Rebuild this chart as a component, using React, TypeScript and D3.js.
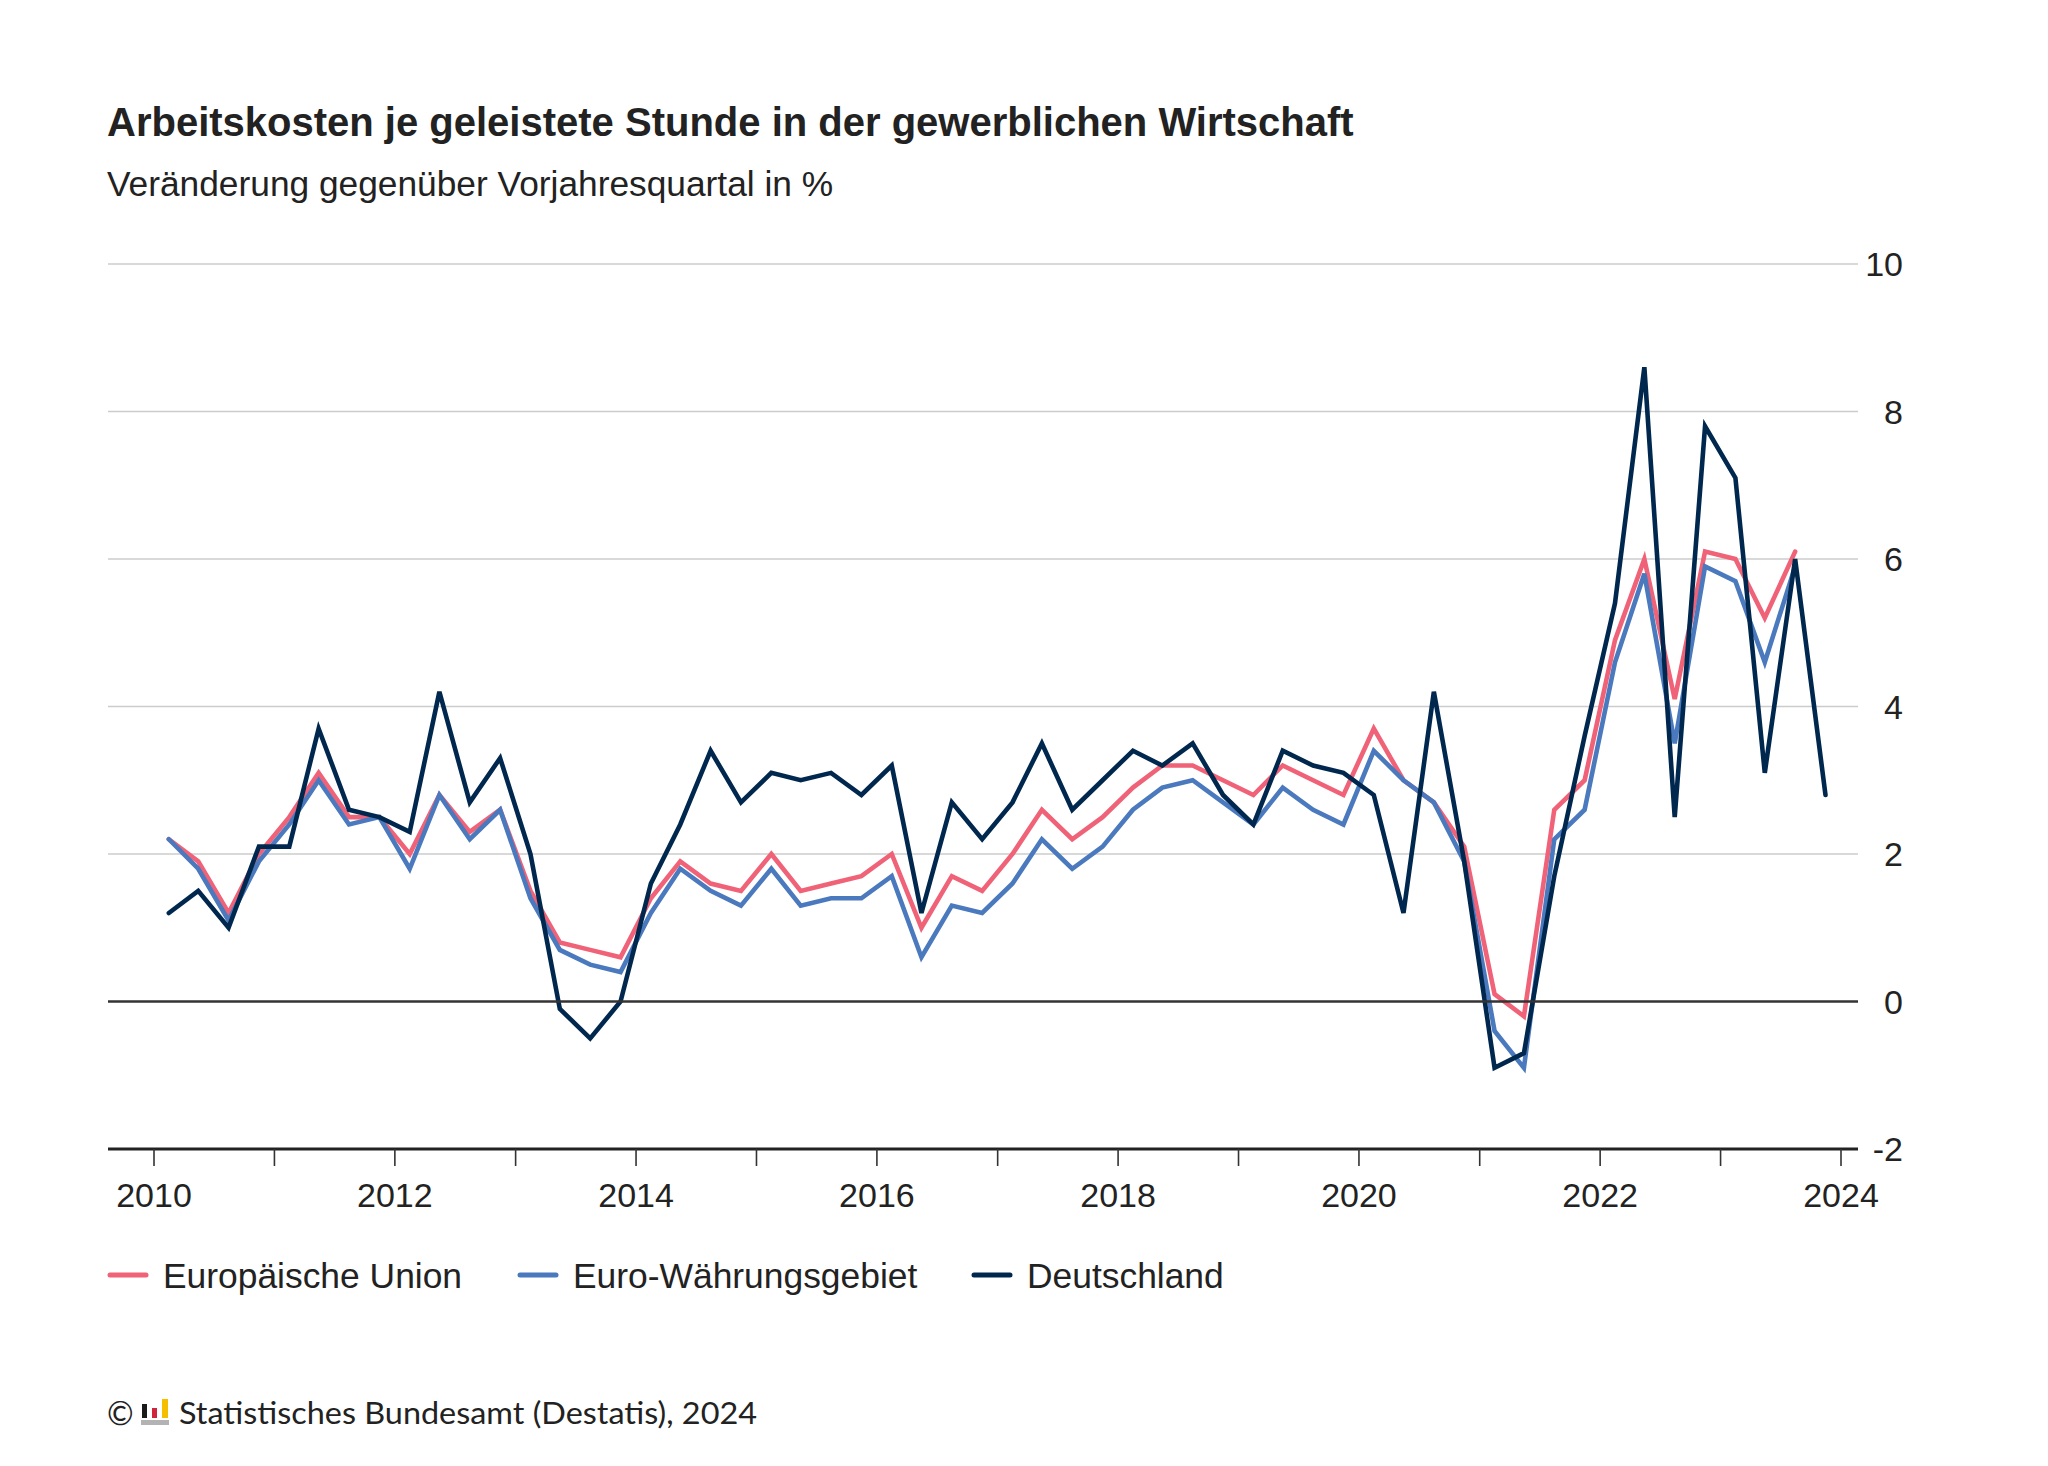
import React from "react";
import * as d3 from "d3";

const W = 2048;
const H = 1466;

const quarters = [
  "2010Q1","2010Q2","2010Q3","2010Q4","2011Q1","2011Q2","2011Q3","2011Q4",
  "2012Q1","2012Q2","2012Q3","2012Q4","2013Q1","2013Q2","2013Q3","2013Q4",
  "2014Q1","2014Q2","2014Q3","2014Q4","2015Q1","2015Q2","2015Q3","2015Q4",
  "2016Q1","2016Q2","2016Q3","2016Q4","2017Q1","2017Q2","2017Q3","2017Q4",
  "2018Q1","2018Q2","2018Q3","2018Q4","2019Q1","2019Q2","2019Q3","2019Q4",
  "2020Q1","2020Q2","2020Q3","2020Q4","2021Q1","2021Q2","2021Q3","2021Q4",
  "2022Q1","2022Q2","2022Q3","2022Q4","2023Q1","2023Q2","2023Q3","2023Q4",
];

const euValues = [
  2.2, 1.9, 1.2, 2.0, 2.5, 3.1, 2.5, 2.5,
  2.0, 2.8, 2.3, 2.6, 1.5, 0.8, 0.7, 0.6,
  1.4, 1.9, 1.6, 1.5, 2.0, 1.5, 1.6, 1.7,
  2.0, 1.0, 1.7, 1.5, 2.0, 2.6, 2.2, 2.5,
  2.9, 3.2, 3.2, 3.0, 2.8, 3.2, 3.0, 2.8,
  3.7, 3.0, 2.7, 2.1, 0.1, -0.2, 2.6, 3.0,
  4.9, 6.0, 4.1, 6.1, 6.0, 5.2, 6.1,
];

const euroAreaValues = [
  2.2, 1.8, 1.1, 1.9, 2.4, 3.0, 2.4, 2.5,
  1.8, 2.8, 2.2, 2.6, 1.4, 0.7, 0.5, 0.4,
  1.2, 1.8, 1.5, 1.3, 1.8, 1.3, 1.4, 1.4,
  1.7, 0.6, 1.3, 1.2, 1.6, 2.2, 1.8, 2.1,
  2.6, 2.9, 3.0, 2.7, 2.4, 2.9, 2.6, 2.4,
  3.4, 3.0, 2.7, 1.9, -0.4, -0.9, 2.2, 2.6,
  4.6, 5.8, 3.5, 5.9, 5.7, 4.6, 5.9,
];

const germanyValues = [
  1.2, 1.5, 1.0, 2.1, 2.1, 3.7, 2.6, 2.5,
  2.3, 4.2, 2.7, 3.3, 2.0, -0.1, -0.5, 0.0,
  1.6, 2.4, 3.4, 2.7, 3.1, 3.0, 3.1, 2.8,
  3.2, 1.2, 2.7, 2.2, 2.7, 3.5, 2.6, 3.0,
  3.4, 3.2, 3.5, 2.8, 2.4, 3.4, 3.2, 3.1,
  2.8, 1.2, 4.2, 1.9, -0.9, -0.7, 1.7, 3.6,
  5.4, 8.6, 2.5, 7.8, 7.1, 3.1, 6.0, 2.8,
];

const seriesNames = ["Europäische Union", "Euro-Währungsgebiet", "Deutschland"];
const seriesColors = ["#f06277", "#4a79be", "#00284f"];
const yTicks = [-2, 0, 2, 4, 6, 8, 10];
const xTickYears = [2010, 2011, 2012, 2013, 2014, 2015, 2016, 2017, 2018, 2019, 2020, 2021, 2022, 2023, 2024];
const xLabelYears = [2010, 2012, 2014, 2016, 2018, 2020, 2022, 2024];

const title = "Arbeitskosten je geleistete Stunde in der gewerblichen Wirtschaft";
const subtitle = "Veränderung gegenüber Vorjahresquartal in %";
const source = "Statistisches Bundesamt (Destatis), 2024";

const FONT = "'Liberation Sans', Arial, Helvetica, sans-serif";

function quarterDate(q: string): Date {
  const year = +q.slice(0, 4);
  const qq = +q.slice(5);
  return new Date(year, (qq - 1) * 3 + 1, 15);
}

export default function App() {
  const plotLeft = 108;
  const plotRight = 1858;
  const x = d3
    .scaleTime()
    .domain([new Date(2010, 0, 1), new Date(2024, 0, 1)])
    .range([154, 1841]);
  const y = d3.scaleLinear().domain([-2, 10]).range([1149, 264]);

  const line = d3
    .line<number>()
    .x((_, i) => x(quarterDate(quarters[i])))
    .y((d) => y(d));

  const allSeries = [euValues, euroAreaValues, germanyValues];

  const legendX = [108, 518, 972];

  return (
    <svg
      width={W}
      height={H}
      viewBox={`0 0 ${W} ${H}`}
      style={{ position: "absolute", left: 0, top: 0, background: "#fff" }}
    >
      <rect x={0} y={0} width={W} height={H} fill="#fff" />
      <text x={107} y={136} fontFamily={FONT} fontWeight="bold" fontSize={40} fill="#222">
        {title}
      </text>
      <text x={107} y={196} fontFamily={FONT} fontSize={35.3} fill="#222">
        {subtitle}
      </text>

      {/* grid */}
      {yTicks
        .filter((t) => t > 0)
        .map((t) => (
          <line key={"g" + t} x1={plotLeft} x2={plotRight} y1={y(t)} y2={y(t)} stroke="#cccccc" strokeWidth={1.4} />
        ))}
      {yTicks.map((t) => (
        <text
          key={"yl" + t}
          x={1903}
          y={y(t)}
          dy="0.36em"
          textAnchor="end"
          fontFamily={FONT}
          fontSize={34}
          fill="#222"
        >
          {t}
        </text>
      ))}

      {/* lines */}
      {allSeries.map((vals, si) => (
        <path
          key={"s" + si}
          d={line(vals) || ""}
          fill="none"
          stroke={seriesColors[si]}
          strokeWidth={4.6}
          strokeLinejoin="miter"
          strokeLinecap="round"
        />
      ))}

      {/* zero line */}
      <line x1={plotLeft} x2={plotRight} y1={y(0)} y2={y(0)} stroke="#333" strokeWidth={2.6} />
      {/* bottom axis */}
      <line x1={plotLeft} x2={plotRight} y1={y(-2)} y2={y(-2)} stroke="#222" strokeWidth={2.8} />
      {xTickYears.map((yr) => (
        <line
          key={"t" + yr}
          x1={x(new Date(yr, 0, 1))}
          x2={x(new Date(yr, 0, 1))}
          y1={y(-2)}
          y2={y(-2) + 17}
          stroke="#333"
          strokeWidth={1.6}
        />
      ))}
      {xLabelYears.map((yr) => (
        <text
          key={"xl" + yr}
          x={x(new Date(yr, 0, 1))}
          y={1207}
          textAnchor="middle"
          fontFamily={FONT}
          fontSize={34}
          fill="#222"
        >
          {yr}
        </text>
      ))}

      {/* legend */}
      {seriesNames.map((name, i) => (
        <g key={"lg" + i}>
          <line
            x1={legendX[i] + 2}
            x2={legendX[i] + 38}
            y1={1275}
            y2={1275}
            stroke={seriesColors[i]}
            strokeWidth={5}
            strokeLinecap="round"
          />
          <text x={legendX[i] + 55} y={1288} fontFamily={FONT} fontSize={35.4} fill="#222">
            {name}
          </text>
        </g>
      ))}

      {/* footer */}
      <text x={107} y={1425} fontFamily="Lato, 'Open Sans', sans-serif" fontSize={32} fill="#222">
        ©
      </text>
      <rect x={142} y={1404} width={5} height={14} fill="#1a1a1a" />
      <rect x={152} y={1408} width={5} height={10} fill="#d0243a" />
      <rect x={162} y={1399} width={6} height={19} fill="#f5bf00" />
      <rect x={141} y={1420} width={28} height={5} fill="#b3b3b3" />
      <text
        x={179}
        y={1424}
        fontFamily="Lato, 'Open Sans', sans-serif"
        fontSize={31}
        fill="#222"
        textLength={578}
        lengthAdjust="spacingAndGlyphs"
      >
        {source}
      </text>
    </svg>
  );
}
